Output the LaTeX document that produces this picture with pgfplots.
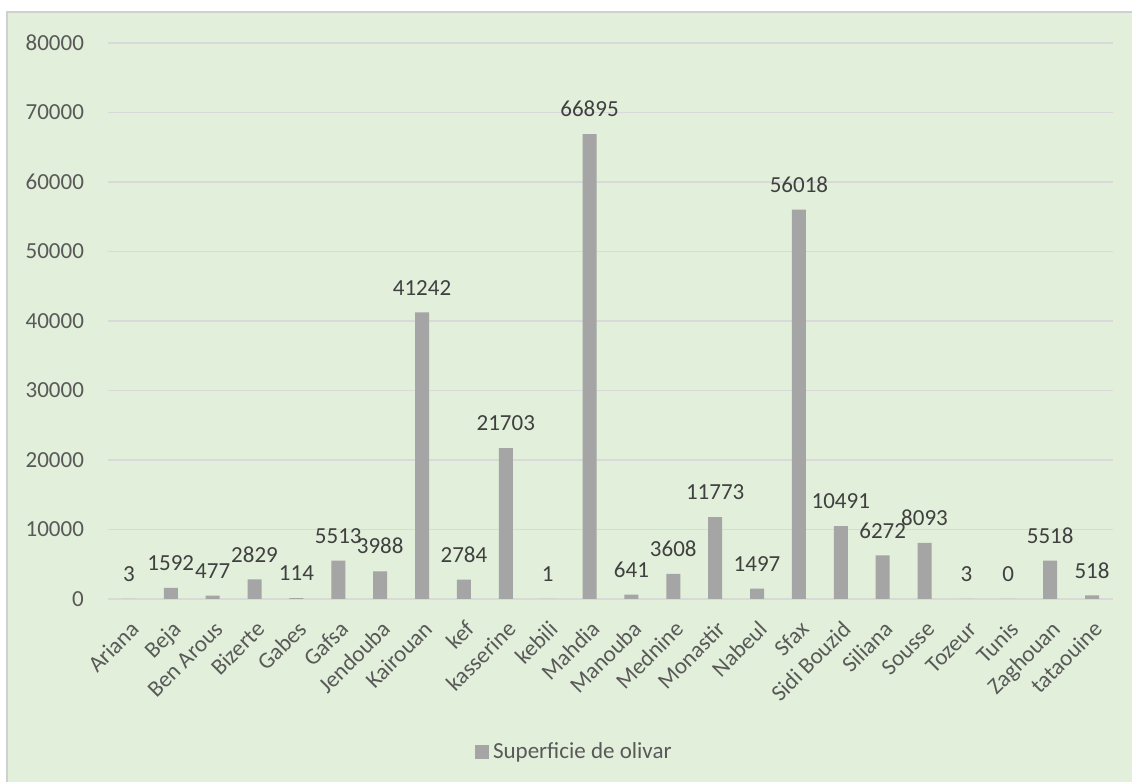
\documentclass[border=0pt]{standalone}
\usepackage{fontspec}
\setmainfont{Carlito}
\usepackage{pgfplots}
\pgfplotsset{compat=1.18}
\definecolor{bgc}{HTML}{E2EFDA}
\definecolor{barc}{HTML}{A5A5A5}
\definecolor{gridc}{HTML}{D9D9D9}
\definecolor{txtc}{HTML}{595959}
\definecolor{lblc}{HTML}{404040}
\definecolor{framec}{HTML}{D0D0D0}
\newcommand{\cf}{\fontsize{11.5}{13}\selectfont}
\begin{document}
\begin{tikzpicture}
\fill[white] (-54pt,-91.5pt) rectangle (512pt,299.5pt);
\fill[bgc] (-50.5pt,-91.5pt) rectangle (512pt,293.5pt);
\draw[framec, line width=0.8pt] (-50.5pt,-91.5pt) -- (-50.5pt,293.5pt) -- (512pt,293.5pt);
\begin{axis}[
  at={(0,0)}, anchor=south west, scale only axis,
  width=502.5pt, height=278pt,
  ybar, bar width=7pt,
  xmin=-0.5, xmax=23.5, ymin=0, ymax=80000,
  xtick={0,...,23},
  xticklabels={Ariana,Beja,Ben Arous,Bizerte,Gabes,Gafsa,Jendouba,Kairouan,kef,kasserine,kebili,Mahdia,Manouba,Mednine,Monastir,Nabeul,Sfax,Sidi Bouzid,Siliana,Sousse,Tozeur,Tunis,Zaghouan,tataouine},
  ytick={0,10000,...,80000},
  scaled y ticks=false,
  /pgf/number format/fixed,
  /pgf/number format/1000 sep={},
  /pgf/number format/assume math mode=true,
  ymajorgrids,
  grid style={gridc, line width=0.75pt},
  axis line style={draw=none},
  major tick length=0pt,
  tick label style={font=\cf, text=txtc},
  yticklabel style={anchor=east, inner sep=0pt, xshift=-11.85pt},
  xticklabel style={xshift=5.8pt, yshift=-15.8pt, rotate=45, anchor=base east, inner sep=0pt},
  nodes near coords,
  every node near coord/.append style={font=\cf, text=lblc, anchor=base, inner sep=0pt, yshift=8.65pt},
  legend style={at={(0.465,-0.275)}, anchor=center, draw=none, fill=none, font=\cf, text=txtc},
  legend image code/.code={\fill[barc] (0pt,-3.5pt) rectangle (7pt,3.5pt);},
]
\addplot[fill=barc, draw=none] coordinates {
(0,3) (1,1592) (2,477) (3,2829) (4,114) (5,5513) (6,3988) (7,41242)
(8,2784) (9,21703) (10,1) (11,66895) (12,641) (13,3608) (14,11773) (15,1497)
(16,56018) (17,10491) (18,6272) (19,8093) (20,3) (21,0) (22,5518) (23,518)
};
\addlegendentry{Superficie de olivar}
\end{axis}
\pgfresetboundingbox
\path[use as bounding box] (-54pt,-91.5pt) rectangle (512pt,299.5pt);
\end{tikzpicture}
\end{document}
